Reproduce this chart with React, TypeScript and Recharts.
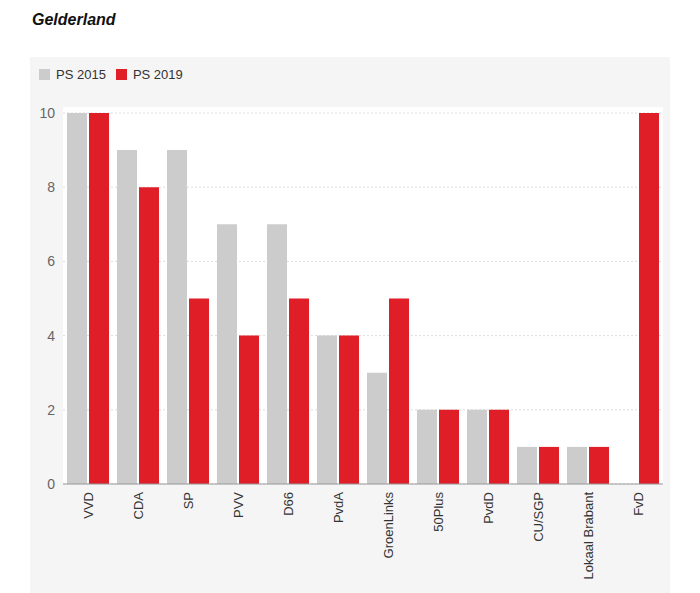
import { BarChart, Bar, XAxis, YAxis, CartesianGrid } from 'recharts';

const parties = ['VVD', 'CDA', 'SP', 'PVV', 'D66', 'PvdA', 'GroenLinks', '50Plus', 'PvdD', 'CU/SGP', 'Lokaal Brabant', 'FvD'];
const ps2015 = [10, 9, 9, 7, 7, 4, 3, 2, 2, 1, 1, 0];
const ps2019 = [10, 8, 5, 4, 5, 4, 5, 2, 2, 1, 1, 10];
const yTicks = [0, 2, 4, 6, 8, 10];

const series = [
  { key: 'ps2015', name: 'PS 2015', color: '#cccccc' },
  { key: 'ps2019', name: 'PS 2019', color: '#e01e27' },
];

const data = parties.map((p, i) => ({ party: p, ps2015: ps2015[i], ps2019: ps2019[i] }));

const FONT = '"Liberation Sans", Arial, Helvetica, sans-serif';

// eslint-disable-next-line @typescript-eslint/no-explicit-any
function PartyTick({ x, y, payload }: any) {
  return (
    <text
      transform={`translate(${x},${y}) rotate(-90)`}
      textAnchor="end"
      dominantBaseline="central"
      fontSize={13}
      fill="#333"
      fontFamily={FONT}
    >
      {payload.value}
    </text>
  );
}

export default function App() {
  return (
    <div style={{ position: 'absolute', left: 0, top: 0, width: 700, height: 593, background: '#fff', fontFamily: FONT }}>
      <div style={{ position: 'absolute', left: 32, top: 11, fontSize: 16, fontWeight: 'bold', fontStyle: 'italic', color: '#111' }}>
        Gelderland
      </div>
      <div style={{ position: 'absolute', left: 30, top: 57, width: 640, height: 536, background: '#f5f5f5' }}>
        <div style={{ position: 'absolute', left: 9, top: 10, display: 'flex', alignItems: 'center', fontSize: 13, color: '#333' }}>
          {series.map((s) => (
            <span key={s.key} style={{ display: 'flex', alignItems: 'center', marginRight: 10 }}>
              <span style={{ width: 11, height: 11, background: s.color, display: 'inline-block', marginRight: 6 }} />
              {s.name}
            </span>
          ))}
        </div>
        <div style={{ position: 'absolute', left: 33, top: 50, width: 600, height: 377, background: '#fff' }} />
        <div style={{ position: 'absolute', left: 0, top: 0 }}>
          <BarChart
            width={640}
            height={536}
            data={data}
            margin={{ top: 56, right: 7, bottom: 9, left: 0 }}
            barSize={20}
            barGap={2}
          >
            <CartesianGrid vertical={false} stroke="#dddddd" strokeDasharray="2 2" />
            <XAxis
              dataKey="party"
              interval={0}
              height={100}
              tick={<PartyTick />}
              tickLine={false}
              axisLine={{ stroke: '#999999' }}
            />
            <YAxis
              domain={[0, 10]}
              ticks={yTicks}
              width={33}
              axisLine={false}
              tickLine={false}
              tick={{ fontSize: 14, fill: '#666', fontFamily: FONT }}
            />
            {series.map((s) => (
              <Bar key={s.key} dataKey={s.key} name={s.name} fill={s.color} isAnimationActive={false} />
            ))}
          </BarChart>
        </div>
      </div>
    </div>
  );
}
